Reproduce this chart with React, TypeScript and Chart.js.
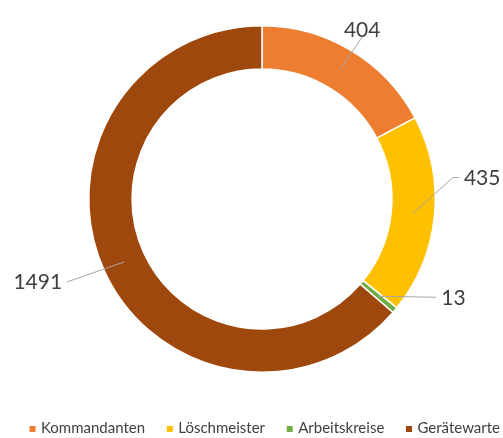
import React, { useEffect, useRef } from "react";
import { Chart, registerables } from "chart.js";

Chart.register(...registerables);

const categories = ["Kommandanten", "Löschmeister", "Arbeitskreise", "Gerätewarte"];
const values = [404, 435, 13, 1491];
const colors = ["#ED7D31", "#FFC000", "#70AD47", "#9E480E"];

// leader-line layout for each data label (relative to the slice's mid point)
const labelLayout = [
  { knee: [22, -32], end: [22, -32], text: [22, -39], align: "center" },
  { knee: [40, -36], end: [46, -36], text: [51, -35], align: "left" },
  { knee: [58, 1], end: [58, 1], text: [63, 2], align: "left" },
  { knee: [-57, 20], end: [-57, 20], text: [-62, 20], align: "right" },
];

const FONT = "Lato, 'Open Sans', sans-serif";

const labelsPlugin = {
  id: "excelLabels",
  afterDatasetsDraw(chart: any) {
    const ctx = chart.ctx;
    const meta = chart.getDatasetMeta(0);
    ctx.save();
    meta.data.forEach((arc: any, i: number) => {
      const p = arc.getProps(["x", "y", "startAngle", "endAngle", "innerRadius", "outerRadius"], true);
      const a = (p.startAngle + p.endAngle) / 2;
      const r = (p.innerRadius + p.outerRadius) / 2;
      const mx = p.x + Math.cos(a) * r;
      const my = p.y + Math.sin(a) * r;
      const L = labelLayout[i];
      ctx.strokeStyle = "#A6A6A6";
      ctx.lineWidth = 1;
      ctx.beginPath();
      ctx.moveTo(mx, my);
      ctx.lineTo(mx + L.knee[0], my + L.knee[1]);
      ctx.lineTo(mx + L.end[0], my + L.end[1]);
      ctx.stroke();
      ctx.fillStyle = "#404040";
      ctx.font = `21px ${FONT}`;
      ctx.textAlign = L.align as CanvasTextAlign;
      ctx.textBaseline = "middle";
      ctx.fillText(String(values[i]), mx + L.text[0], my + L.text[1]);
    });
    ctx.restore();
  },
};

const legendPlugin = {
  id: "excelLegend",
  afterDraw(chart: any) {
    const ctx = chart.ctx;
    ctx.save();
    ctx.font = `15px ${FONT}`;
    const box = 6;
    const boxGap = 5.5;
    const left = 29.5;
    const right = 500;
    const widths = categories.map((c) => ctx.measureText(c).width);
    const used = widths.reduce((s, w) => s + box + boxGap + w, 0);
    const itemGap = Math.max(8, (right - left - used) / (categories.length - 1));
    let x = left;
    const y = 428;
    ctx.textBaseline = "middle";
    ctx.textAlign = "left";
    categories.forEach((c, i) => {
      ctx.fillStyle = colors[i];
      ctx.fillRect(x, y - box / 2 + 1, box, box);
      ctx.fillStyle = "#404040";
      ctx.fillText(c, x + box + boxGap, y);
      x += box + boxGap + widths[i] + itemGap;
    });
    ctx.restore();
  },
};

export default function App() {
  const ref = useRef<HTMLCanvasElement | null>(null);
  useEffect(() => {
    if (!ref.current) return;
    const chart = new Chart(ref.current, {
      type: "doughnut",
      data: {
        labels: categories,
        datasets: [
          {
            data: values,
            backgroundColor: colors,
            borderColor: "#FFFFFF",
            borderWidth: 1.5,
          },
        ],
      },
      options: {
        animation: false,
        responsive: true,
        maintainAspectRatio: false,
        cutout: "75%",
        layout: { padding: { top: 25, bottom: 65, left: 21, right: 0 } },
        plugins: {
          legend: { display: false },
          tooltip: { enabled: false },
        },
      },
      plugins: [labelsPlugin, legendPlugin],
    });
    return () => chart.destroy();
  }, []);
  return (
    <div style={{ position: "fixed", left: 0, top: 0, width: 503, height: 438, background: "#fff" }}>
      <canvas ref={ref} />
    </div>
  );
}
